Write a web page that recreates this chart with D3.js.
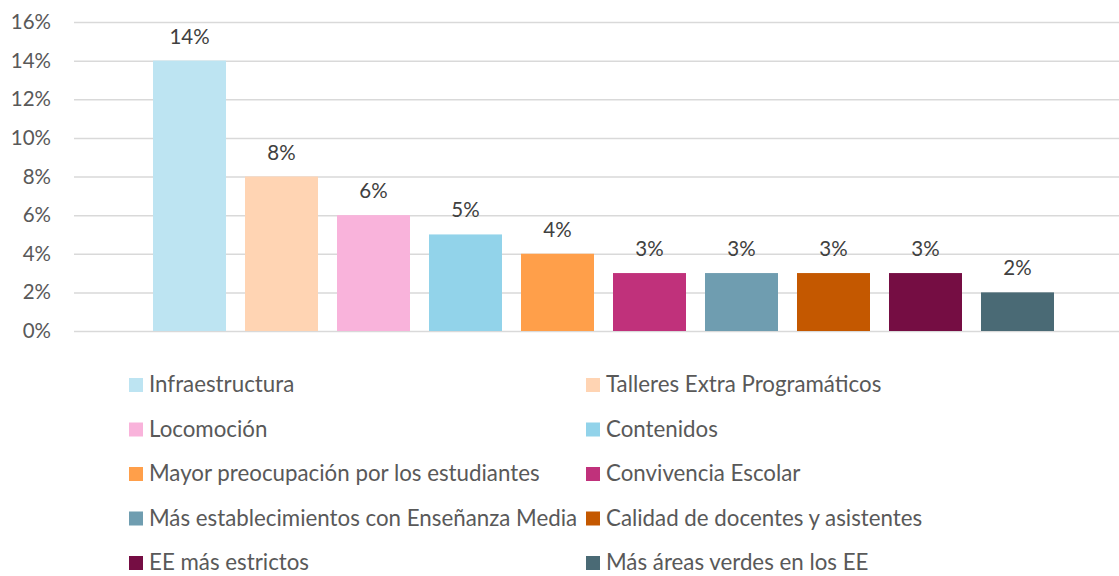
<!DOCTYPE html>
<html>
<head>
<meta charset="utf-8">
<script src="https://cdn.jsdelivr.net/npm/d3@7"></script>
<style>
  html, body { margin: 0; padding: 0; background: #ffffff; }
  svg { display: block; font-family: Lato, "Open Sans", sans-serif; }
</style>
</head>
<body>
<svg id="chart" width="1119" height="576"></svg>
<script>
// Categories, values (as fractions) and bar colours
const categories = [
  "Infraestructura",
  "Talleres Extra Programáticos",
  "Locomoción",
  "Contenidos",
  "Mayor preocupación por los estudiantes",
  "Convivencia Escolar",
  "Más establecimientos con Enseñanza Media",
  "Calidad de docentes y asistentes",
  "EE más estrictos",
  "Más áreas verdes en los EE"
];
const values = [0.14, 0.08, 0.06, 0.05, 0.04, 0.03, 0.03, 0.03, 0.03, 0.02];
const colors = [
  "#BDE4F2", "#FFD4B3", "#F9B3DB", "#92D3EA", "#FF9F4A",
  "#C0317B", "#6F9DB0", "#C45800", "#750D43", "#4A6A75"
];
const yTicks = [0, 0.02, 0.04, 0.06, 0.08, 0.10, 0.12, 0.14, 0.16];

const svg = d3.select("#chart");
const plot = { left: 74, right: 1119, top: 22, bottom: 331 };

const y = d3.scaleLinear().domain([0, 0.16]).range([plot.bottom, plot.top]);
const x = d3.scaleBand()
  .domain(categories)
  .range([143.5, 1063.5])
  .paddingInner(0.2065)
  .paddingOuter(0.1033);

const pct = d3.format(".0%");

// Horizontal gridlines and percentage labels
const yAxis = d3.axisLeft(y)
  .tickValues(yTicks)
  .tickFormat(pct)
  .tickSize(-(plot.right - plot.left))
  .tickPadding(23);

const gAxis = svg.append("g")
  .attr("transform", `translate(${plot.left},0)`)
  .call(yAxis);
gAxis.select(".domain").remove();
gAxis.selectAll(".tick line")
  .attr("stroke", "#d9d9d9")
  .attr("stroke-width", 1.5);
gAxis.selectAll(".tick text")
  .attr("fill", "#595959")
  .attr("font-size", 20.5)
  .attr("font-family", "Lato, 'Open Sans', sans-serif");

// Bars
svg.append("g")
  .selectAll("rect")
  .data(categories)
  .join("rect")
  .attr("x", d => x(d))
  .attr("width", x.bandwidth())
  .attr("y", (d, i) => y(values[i]))
  .attr("height", (d, i) => y(0) - y(values[i]))
  .attr("fill", (d, i) => colors[i]);

// Value labels above bars
svg.append("g")
  .selectAll("text")
  .data(categories)
  .join("text")
  .attr("x", d => x(d) + x.bandwidth() / 2)
  .attr("y", (d, i) => y(values[i]) - 17)
  .attr("text-anchor", "middle")
  .attr("fill", "#404040")
  .attr("font-size", 20.5)
  .text((d, i) => pct(values[i]));

// Legend: two columns, filled row by row
const legendCols = [129, 586];
const legendTop = 385;
const legendStep = 44.5;
const legend = svg.append("g")
  .selectAll("g")
  .data(categories)
  .join("g")
  .attr("transform", (d, i) =>
    `translate(${legendCols[i % 2]},${legendTop + Math.floor(i / 2) * legendStep})`);

legend.append("rect")
  .attr("x", 0)
  .attr("y", -7)
  .attr("width", 14)
  .attr("height", 14)
  .attr("fill", (d, i) => colors[i]);

legend.append("text")
  .attr("x", 20)
  .attr("y", 7)
  .attr("fill", "#595959")
  .attr("font-size", 22.3)
  .text(d => d);
</script>
</body>
</html>
